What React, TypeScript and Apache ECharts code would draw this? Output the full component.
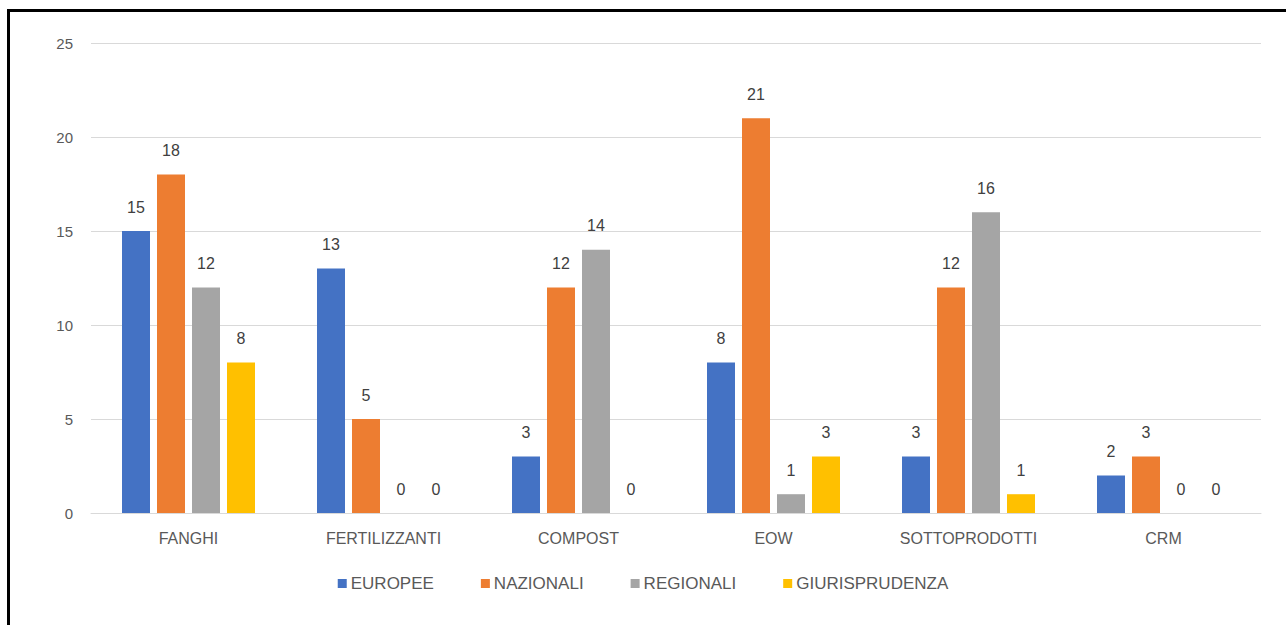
import React, { useEffect, useRef } from "react";
import * as echarts from "echarts";

const categories = ["FANGHI", "FERTILIZZANTI", "COMPOST", "EOW", "SOTTOPRODOTTI", "CRM"];
const europee = [15, 13, 3, 8, 3, 2];
const nazionali = [18, 5, 12, 21, 12, 3];
const regionali = [12, 0, 14, 1, 16, 0];
const giurisprudenza = [8, 0, 0, 3, 1, 0];
const seriesNames = ["EUROPEE", "NAZIONALI", "REGIONALI", "GIURISPRUDENZA"];
const seriesColors = ["#4472C4", "#ED7D31", "#A5A5A5", "#FFC000"];

const FONT = "'Liberation Sans', Arial, sans-serif";

export default function App() {
  const ref = useRef<HTMLDivElement>(null);

  useEffect(() => {
    if (!ref.current) return;
    const chart = echarts.init(ref.current, undefined, { renderer: "svg" });
    const values = [europee, nazionali, regionali, giurisprudenza];
    chart.setOption({
      animation: false,
      backgroundColor: "#ffffff",
      textStyle: { fontFamily: FONT },
      graphic: [
        { type: "rect", left: 7, top: 9, shape: { width: 3, height: 625 }, style: { fill: "#000" } },
        { type: "rect", left: 7, top: 9, shape: { width: 1290, height: 3 }, style: { fill: "#000" } },
      ],
      grid: { left: 91, right: 25, top: 43, bottom: 112, containLabel: false },
      legend: {
        bottom: 28,
        left: "center",
        itemWidth: 9,
        itemHeight: 9,
        itemGap: 47,
        icon: "rect",
        textStyle: { color: "#595959", fontSize: 17, fontFamily: FONT, padding: [0, 0, 0, -1] },
        data: seriesNames,
      },
      xAxis: {
        type: "category",
        data: categories,
        axisLine: { lineStyle: { color: "#D9D9D9", width: 1 } },
        axisTick: { show: false },
        axisLabel: { color: "#595959", fontSize: 16, margin: 17, fontFamily: FONT },
      },
      yAxis: {
        type: "value",
        min: 0,
        max: 25,
        interval: 5,
        axisLine: { show: false },
        axisTick: { show: false },
        splitLine: { lineStyle: { color: "#D9D9D9", width: 1 } },
        axisLabel: { color: "#595959", fontSize: 15, margin: 18, fontFamily: FONT },
      },
      series: seriesNames.map((name, i) => ({
        name,
        type: "bar",
        data: values[i],
        barWidth: 28,
        barGap: "25%",
        itemStyle: { color: seriesColors[i] },
        label: {
          show: true,
          position: "top",
          distance: 16,
          color: "#404040",
          fontSize: 16,
          fontFamily: FONT,
        },
      })),
    });
    return () => chart.dispose();
  }, []);

  return (
    <div
      ref={ref}
      style={{ position: "absolute", left: 0, top: 0, width: 1286, height: 625 }}
    />
  );
}
